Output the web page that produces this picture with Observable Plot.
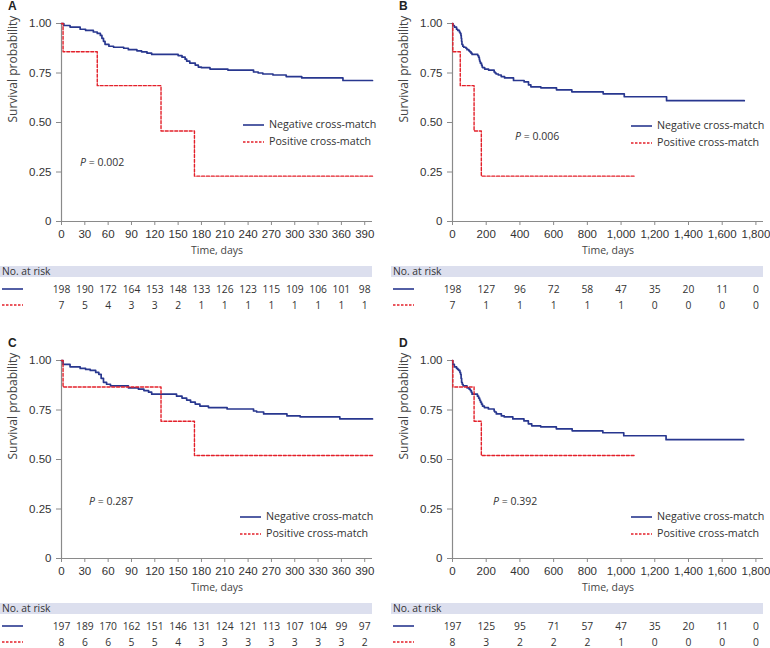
<!DOCTYPE html>
<html>
<head>
<meta charset="utf-8">
<script src="https://cdn.jsdelivr.net/npm/d3@7"></script>
<script src="https://cdn.jsdelivr.net/npm/@observablehq/plot@0.6"></script>
<style>
  html, body { margin: 0; padding: 0; background: #fff; }
  #root { position: relative; width: 770px; height: 648px; overflow: hidden; background: #fff; }
  .panel { position: absolute; width: 380px; height: 337px; }
  .panel svg { position: absolute; overflow: visible; }
  .letter { position: absolute; left: 8px; top: -1px; font: bold 12px 'Liberation Sans', Arial, sans-serif; color: #222; }
  .leg { position: absolute; font: 10.7px 'Open Sans', sans-serif; color: #333; line-height: 17px; white-space: nowrap; }
  .leg svg { position: static; vertical-align: middle; margin-right: 5px; }
  .pval { position: absolute; font: 10.5px 'Open Sans', sans-serif; color: #333; white-space: nowrap; }
  .band { position: absolute; left: 0; width: 372px; top: 266px; height: 11px; background: #dcdfee; }
  .nar { position: absolute; left: 2px; top: 264px; font: 10.3px 'Open Sans', sans-serif; color: #333; }
  .sw { position: absolute; left: 2px; }
</style>
</head>
<body>
<div id="root"></div>
<script>
// ---------- data ----------
const seriesNames = ["Negative cross-match", "Positive cross-match"];
const panelLetters = ["A", "B", "C", "D"];
const pValues = ["0.002", "0.006", "0.287", "0.392"];

// Kaplan–Meier, full cohort (A/B)
const negAB_t = [0, 3, 11, 24, 31, 41, 46, 50, 52, 54, 56, 61, 67, 80, 86, 97, 103, 110, 116, 150, 155, 159, 161, 165, 172, 176, 180, 191, 214, 247, 253, 259, 272, 289, 309, 362, 425, 451, 465, 524, 617, 708, 894, 1019, 1270, 1731];
const negAB_s = [1, 0.99, 0.982, 0.971, 0.965, 0.957, 0.95, 0.94, 0.925, 0.91, 0.895, 0.885, 0.88, 0.875, 0.868, 0.862, 0.857, 0.85, 0.844, 0.838, 0.83, 0.82, 0.81, 0.80, 0.79, 0.78, 0.777, 0.77, 0.765, 0.755, 0.75, 0.745, 0.74, 0.732, 0.725, 0.712, 0.705, 0.69, 0.68, 0.675, 0.665, 0.655, 0.645, 0.63, 0.61, 0.61];
const posAB_t = [0, 2, 46, 128, 171, 1078];
const posAB_s = [1, 0.857, 0.686, 0.457, 0.229, 0.229];

// Kaplan–Meier (C/D)
const negCD_t = [0, 2, 11, 24, 31, 37, 44, 48, 51, 54, 58, 63, 86, 99, 106, 112, 116, 148, 155, 161, 166, 172, 178, 189, 213, 247, 251, 260, 290, 307, 358, 424, 450, 470, 523, 616, 710, 892, 1016, 1267, 1727];
const negCD_s = [1, 0.98, 0.968, 0.96, 0.955, 0.95, 0.94, 0.93, 0.91, 0.89, 0.88, 0.872, 0.862, 0.855, 0.848, 0.84, 0.83, 0.82, 0.81, 0.80, 0.79, 0.78, 0.77, 0.762, 0.755, 0.745, 0.74, 0.73, 0.72, 0.715, 0.705, 0.695, 0.68, 0.67, 0.665, 0.655, 0.645, 0.635, 0.62, 0.60, 0.60];
const posCD_t = [0, 2, 128, 171, 1077];
const posCD_s = [1, 0.866, 0.693, 0.52, 0.52];

// ticks
const ticksShort = [0, 30, 60, 90, 120, 150, 180, 210, 240, 270, 300, 330, 360, 390];
const ticksLong = [0, 200, 400, 600, 800, 1000, 1200, 1400, 1600, 1800];
const yTicks = [0, 0.25, 0.5, 0.75, 1];

// numbers at risk
const riskA_neg = [198, 190, 172, 164, 153, 148, 133, 126, 123, 115, 109, 106, 101, 98];
const riskA_pos = [7, 5, 4, 3, 3, 2, 1, 1, 1, 1, 1, 1, 1, 1];
const riskB_neg = [198, 127, 96, 72, 58, 47, 35, 20, 11, 0];
const riskB_pos = [7, 1, 1, 1, 1, 1, 0, 0, 0, 0];
const riskC_neg = [197, 189, 170, 162, 151, 146, 131, 124, 121, 113, 107, 104, 99, 97];
const riskC_pos = [8, 6, 6, 5, 5, 4, 3, 3, 3, 3, 3, 3, 3, 2];
const riskD_neg = [197, 125, 95, 71, 57, 47, 35, 20, 11, 0];
const riskD_pos = [8, 3, 2, 2, 2, 1, 0, 0, 0, 0];

// ---------- styling ----------
const BLUE = "#28378f";
const RED = "#e3202a";
const AX = "#8a8a8a";

const zip = (t, s) => t.map((d, i) => ({t: d, s: s[i]}));
function cut(data, xmax) {
  const inside = data.filter(d => d.t < xmax);
  const last = data[data.length - 1];
  if (last.t > xmax) inside.push({t: xmax, s: inside[inside.length - 1].s});
  return inside;
}

const panels = [
  {i: 0, ox: 0, oy: 0, xmax: 400, ticks: ticksShort, fmt: d => String(d), neg: zip(negAB_t, negAB_s), pos: zip(posAB_t, posAB_s), rn: riskA_neg, rp: riskA_pos, pPos: [80, 155], leg: [243, 116]},
  {i: 1, ox: 391, oy: 0, xmax: 1845, ticks: ticksLong, fmt: d3.format(","), neg: zip(negAB_t, negAB_s), pos: zip(posAB_t, posAB_s), rn: riskB_neg, rp: riskB_pos, pPos: [124, 129], leg: [240, 117]},
  {i: 2, ox: 0, oy: 337, xmax: 400, ticks: ticksShort, fmt: d => String(d), neg: zip(negCD_t, negCD_s), pos: zip(posCD_t, posCD_s), rn: riskC_neg, rp: riskC_pos, pPos: [89, 157], leg: [240, 171]},
  {i: 3, ox: 391, oy: 337, xmax: 1845, ticks: ticksLong, fmt: d3.format(","), neg: zip(negCD_t, negCD_s), pos: zip(posCD_t, posCD_s), rn: riskD_neg, rp: riskD_pos, pPos: [102, 157], leg: [240, 171]}
];

const root = document.getElementById("root");
const swatch = (color, dash) =>
  `<svg width="21" height="4"><line x1="0" x2="21" y1="2" y2="2" stroke="${color}" stroke-width="${dash ? 1.4 : 1.6}" ${dash ? 'stroke-dasharray="2.5,1.5"' : ""}/></svg>`;

for (const p of panels) {
  const div = document.createElement("div");
  div.className = "panel";
  div.style.left = p.ox + "px";
  div.style.top = p.oy + "px";
  root.appendChild(div);

  const km = Plot.plot({
    width: 380, height: 260,
    marginLeft: 61, marginRight: 8, marginTop: 23, marginBottom: 39,
    style: {fontFamily: "'Liberation Sans', Arial, sans-serif", fontSize: "11.5px", color: "#333", background: "transparent"},
    x: {domain: [0, p.xmax]},
    y: {domain: [0, 1]},
    marks: [
      Plot.axisX({ticks: p.ticks, tickFormat: p.fmt, tickSize: 4, tickPadding: 4, stroke: AX, fill: "#333", label: null}),
      Plot.axisY({ticks: yTicks, tickFormat: d => d === 0 ? "0" : d.toFixed(2), tickSize: 5, tickPadding: 5, stroke: AX, fill: "#333", label: null}),
      Plot.ruleX([0], {stroke: AX, strokeWidth: 1.2}),
      Plot.ruleY([0], {stroke: AX, strokeWidth: 1.2}),
      Plot.line(cut(p.neg, p.xmax), {x: "t", y: "s", curve: "step-after", stroke: BLUE, strokeWidth: 1.7}),
      Plot.line(cut(p.pos, p.xmax), {x: "t", y: "s", curve: "step-after", stroke: RED, strokeWidth: 1.4, strokeDasharray: "3,1.8"}),
      Plot.text(["Time, days"], {frameAnchor: "bottom", dy: 32, fontFamily: "'Open Sans', sans-serif", fontSize: 10.5, fill: "#444"}),
      Plot.text(["Survival probability"], {frameAnchor: "left", rotate: -90, dx: -48, fontFamily: "'Open Sans', sans-serif", fontSize: 12, fill: "#444"})
    ]
  });
  km.style.left = "0px"; km.style.top = "0px";
  div.appendChild(km);

  const letter = document.createElement("div");
  letter.className = "letter";
  letter.textContent = panelLetters[p.i];
  div.appendChild(letter);

  const pv = document.createElement("div");
  pv.className = "pval";
  pv.style.left = p.pPos[0] + "px"; pv.style.top = p.pPos[1] + "px";
  pv.innerHTML = `<i>P</i> = ${pValues[p.i]}`;
  div.appendChild(pv);

  const leg = document.createElement("div");
  leg.className = "leg";
  leg.style.left = p.leg[0] + "px"; leg.style.top = p.leg[1] + "px";
  leg.innerHTML = `<div>${swatch(BLUE, false)}${seriesNames[0]}</div><div>${swatch(RED, true)}${seriesNames[1]}</div>`;
  div.appendChild(leg);

  // at-risk table
  const band = document.createElement("div"); band.className = "band"; div.appendChild(band);
  const nar = document.createElement("div"); nar.className = "nar"; nar.textContent = "No. at risk"; div.appendChild(nar);
  const sw1 = document.createElement("div"); sw1.className = "sw"; sw1.style.top = "287px"; sw1.innerHTML = swatch(BLUE, false); div.appendChild(sw1);
  const sw2 = document.createElement("div"); sw2.className = "sw"; sw2.style.top = "303px"; sw2.innerHTML = swatch(RED, true); div.appendChild(sw2);

  const rows = [
    ...p.ticks.map((t, k) => ({t, n: p.rn[k], g: "neg"})),
    ...p.ticks.map((t, k) => ({t, n: p.rp[k], g: "pos"}))
  ];
  const risk = Plot.plot({
    width: 380, height: 55,
    marginLeft: 61, marginRight: 8, marginTop: 29, marginBottom: 10,
    style: {background: "transparent"},
    x: {domain: [0, p.xmax], axis: null},
    y: {type: "point", domain: ["neg", "pos"], padding: 0, axis: null},
    marks: [
      Plot.text(rows, {x: "t", y: "g", text: "n", fontFamily: "'Open Sans', sans-serif", fontSize: 10.3, fill: "#333"})
    ]
  });
  risk.style.left = "0px"; risk.style.top = "260px";
  div.appendChild(risk);
}
</script>
</body>
</html>
